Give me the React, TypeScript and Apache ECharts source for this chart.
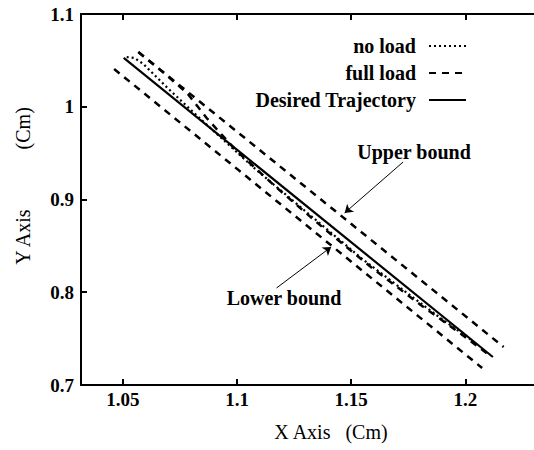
import { useEffect, useRef } from "react";
import * as echarts from "echarts";

const xTicks = [1.05, 1.1, 1.15, 1.2];
const yTicks = [0.7, 0.8, 0.9, 1, 1.1];

const desiredTrajectory = [
  [1.0504, 1.0526],
  [1.212, 0.7302],
];
const upperBound = [
  [1.0568, 1.059],
  [1.2167, 0.741],
];
const lowerBound = [
  [1.0462, 1.0407],
  [1.2073, 0.7183],
];
const noLoad = [
  [1.0517, 1.0536],
  [1.0551, 1.0526],
  [1.059, 1.0461],
  [1.0696, 1.0202],
  [1.0845, 0.9857],
  [1.108, 0.9329],
  [1.1335, 0.88],
  [1.1549, 0.8358],
  [1.1762, 0.796],
  [1.1902, 0.7701],
  [1.2026, 0.7485],
];
const fullLoad = [
  [1.0568, 1.059],
  [1.0675, 1.0375],
  [1.0781, 1.0148],
  [1.0867, 0.9879],
  [1.0994, 0.9534],
  [1.1165, 0.9146],
  [1.1378, 0.8693],
  [1.1591, 0.8262],
  [1.1804, 0.7863],
  [1.1975, 0.7561],
  [1.2103, 0.7324],
];
const upperArrow = [
  [1.1727, 0.9404],
  [1.1471, 0.8855],
];
const lowerArrow = [
  [1.1173, 0.8046],
  [1.1412, 0.8488],
];

const FONT = "'Liberation Serif', 'Times New Roman', serif";

export default function App() {
  const ref = useRef<HTMLDivElement>(null);
  useEffect(() => {
    if (!ref.current) return;
    const chart = echarts.init(ref.current, undefined, { renderer: "svg" });
    const black = "#000";
    const legendText = {
      fontFamily: FONT,
      fontSize: 20,
      fontWeight: "bold" as const,
      color: black,
      padding: [0, 8, 0, 0],
    };
    const mkLegend = (name: string, top: number) => ({
      data: [name],
      right: 67,
      top,
      orient: "vertical" as const,
      align: "right" as const,
      itemWidth: 37,
      itemHeight: 12,
      padding: 0,
      textStyle: legendText,
      itemStyle: { color: "rgba(0,0,0,0)", borderWidth: 0, opacity: 0 },
    });
    chart.setOption({
      animation: false,
      backgroundColor: "#fff",
      grid: { left: 81, top: 14, width: 465, height: 371 },
      legend: [
        mkLegend("no load", 36),
        mkLegend("full load", 63),
        mkLegend("Desired Trajectory", 90),
      ],
      xAxis: [
        {
          type: "value",
          min: 1.0317,
          max: 1.23,
          position: "bottom",
          axisLine: { lineStyle: { color: black, width: 2 } },
          axisTick: {
            inside: true,
            length: 6,
            lineStyle: { color: black, width: 2 },
            customValues: xTicks,
          },
          axisLabel: {
            customValues: xTicks,
            color: black,
            fontFamily: FONT,
            fontSize: 19,
            fontWeight: "bold",
            margin: 5,
          },
          splitLine: { show: false },
        },
        {
          type: "value",
          min: 1.0317,
          max: 1.23,
          position: "top",
          axisLine: { lineStyle: { color: black, width: 2 } },
          axisTick: {
            inside: true,
            length: 6,
            lineStyle: { color: black, width: 2 },
            customValues: xTicks,
          },
          axisLabel: { show: false },
          splitLine: { show: false },
        },
      ],
      yAxis: {
        type: "value",
        min: 0.7,
        max: 1.1,
        interval: 0.1,
        axisLine: { show: true, lineStyle: { color: black, width: 2 } },
        axisTick: {
          show: true,
          inside: true,
          length: 6,
          lineStyle: { color: black, width: 2 },
          customValues: yTicks,
        },
        axisLabel: {
          customValues: yTicks,
          color: black,
          fontFamily: FONT,
          fontSize: 19,
          fontWeight: "bold",
          margin: 7,
        },
        splitLine: { show: false },
      },
      series: [
        {
          name: "no load",
          type: "line",
          data: noLoad,
          symbol: "none",
          lineStyle: { color: black, width: 2.2, type: [2, 3] },
          itemStyle: { color: black },
        },
        {
          name: "full load",
          type: "line",
          data: fullLoad,
          symbol: "none",
          lineStyle: { color: black, width: 2.5, type: [7, 6] },
          itemStyle: { color: black },
        },
        {
          name: "Desired Trajectory",
          type: "line",
          data: desiredTrajectory,
          symbol: "none",
          lineStyle: { color: black, width: 2.2 },
          itemStyle: { color: black },
        },
        {
          name: "Upper bound",
          type: "line",
          data: upperBound,
          symbol: "none",
          lineStyle: { color: black, width: 2.5, type: [7, 6] },
          itemStyle: { color: black },
          markLine: {
            silent: true,
            symbol: ["none", "arrow"],
            symbolSize: 8,
            label: { show: false },
            lineStyle: { color: black, width: 1, type: "solid" },
            data: [
              [{ coord: upperArrow[0] }, { coord: upperArrow[1] }],
              [{ coord: lowerArrow[0] }, { coord: lowerArrow[1] }],
            ],
          },
        },
        {
          name: "Lower bound",
          type: "line",
          data: lowerBound,
          symbol: "none",
          lineStyle: { color: black, width: 2.5, type: [7, 6] },
          itemStyle: { color: black },
        },
      ],
      graphic: [
        {
          type: "text",
          x: 414,
          y: 152,
          style: {
            text: "Upper bound",
            font: `bold 20px ${FONT}`,
            fill: black,
            textAlign: "center",
            textVerticalAlign: "middle",
          },
        },
        {
          type: "text",
          x: 284,
          y: 298,
          style: {
            text: "Lower bound",
            font: `bold 20px ${FONT}`,
            fill: black,
            textAlign: "center",
            textVerticalAlign: "middle",
          },
        },
        {
          type: "text",
          x: 331,
          y: 432,
          style: {
            text: "X Axis   (Cm)",
            font: `20px ${FONT}`,
            fill: black,
            textAlign: "center",
            textVerticalAlign: "middle",
          },
        },
        {
          type: "text",
          x: 23,
          y: 186,
          rotation: Math.PI / 2,
          style: {
            text: "Y Axis            (Cm)",
            font: `20px ${FONT}`,
            fill: black,
            textAlign: "center",
            textVerticalAlign: "middle",
          },
        },
      ],
    });
    return () => chart.dispose();
  }, []);
  return (
    <div
      ref={ref}
      style={{ position: "fixed", left: 0, top: 0, width: 534, height: 450 }}
    />
  );
}
